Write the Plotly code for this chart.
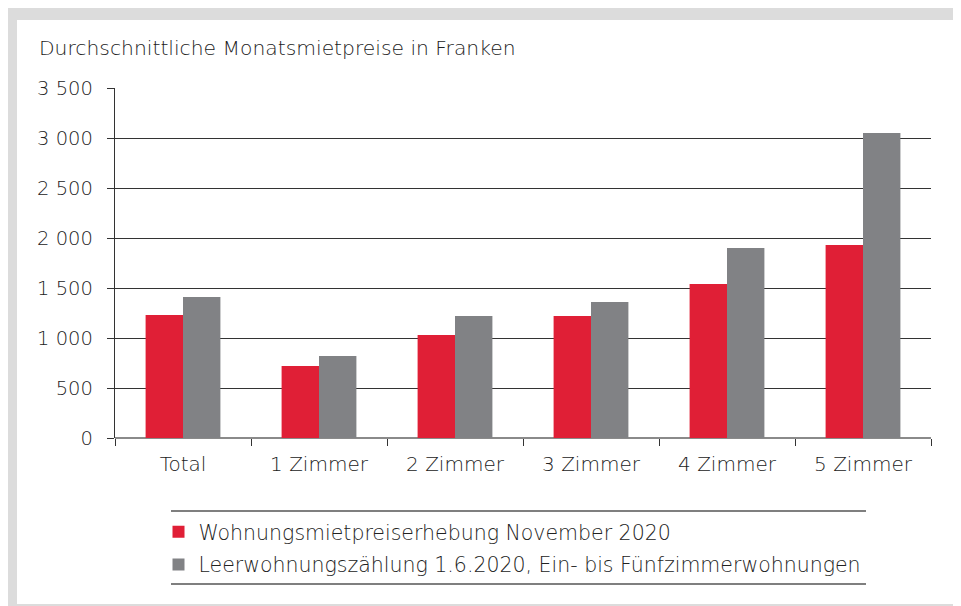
import plotly.graph_objects as go

categories = ["Total", "1 Zimmer", "2 Zimmer", "3 Zimmer", "4 Zimmer", "5 Zimmer"]
series_names = ["Wohnungsmietpreiserhebung November 2020",
                "Leerwohnungszählung 1.6.2020, Ein- bis Fünfzimmerwohnungen"]
werte_nov2020 = [1230, 720, 1030, 1220, 1540, 1930]
werte_leer2020 = [1410, 820, 1220, 1360, 1900, 3050]
y_ticks = [0, 500, 1000, 1500, 2000, 2500, 3000, 3500]
title_text = "Durchschnittliche Monatsmietpreise in Franken"

RED = "#e01f36"
GRAY = "#818285"
FONT = "DejaVu Sans"
TXT = "#222222"

W, H = 961, 606
L, R, T, B = 107, 38, 80, 176
PW, PH = W - L - R, H - T - B


def px_x(x):
    return (x - L) / PW


def px_y(y):
    return (H - B - y) / PH


fig = go.Figure()
fig.add_trace(go.Bar(x=categories, y=werte_nov2020, name=series_names[0],
                     marker=dict(color=RED, line=dict(width=0)), legendgroup="a"))
fig.add_trace(go.Bar(x=categories, y=werte_leer2020, name=series_names[1],
                     marker=dict(color=GRAY, line=dict(width=0)), legendgroup="b"))

shapes = [
    dict(type="rect", xref="paper", yref="paper", x0=px_x(9), x1=px_x(975),
         y0=px_y(596), y1=px_y(12), fillcolor="white", line=dict(width=0), layer="below"),
    dict(type="line", xref="paper", yref="paper", x0=px_x(163), x1=px_x(858),
         y0=px_y(503), y1=px_y(503), line=dict(color="#555555", width=1.3)),
    dict(type="line", xref="paper", yref="paper", x0=px_x(163), x1=px_x(858),
         y0=px_y(576), y1=px_y(576), line=dict(color="#555555", width=1.3)),
]

fig.update_layout(
    width=W, height=H,
    margin=dict(l=L, r=R, t=T, b=B, autoexpand=False),
    paper_bgcolor="#dcdcdc",
    plot_bgcolor="white",
    separators=", ",
    font=dict(family=FONT, size=20, color=TXT, weight=300),
    barmode="group",
    bargap=0.45,
    bargroupgap=0,
    showlegend=True,
    legend=dict(x=px_x(150.5), y=px_y(504), xanchor="left", yanchor="top",
                bgcolor="rgba(0,0,0,0)", traceorder="grouped", tracegroupgap=3,
                font=dict(family=FONT, size=20.5, color=TXT, weight=300)),
    shapes=shapes,
    annotations=[dict(text=title_text, xref="paper", yref="paper",
                      x=px_x(29), y=px_y(40), xanchor="left", yanchor="middle",
                      showarrow=False, font=dict(family=FONT, size=20.3, color=TXT, weight=300))],
    xaxis=dict(showgrid=False, showline=False, ticks="outside", tickson="boundaries",
               ticklen=7, tickcolor="#333333", tickwidth=1.3,
               ticklabelstandoff=12,
               tickfont=dict(size=20), zeroline=False),
    yaxis=dict(range=[0, 3500], tickvals=y_ticks, tickformat=",d",
               showgrid=True, gridcolor="#333333", gridwidth=1.3,
               showline=True, linecolor="#333333", linewidth=1.3,
               ticks="outside", ticklen=7, tickcolor="#333333", tickwidth=1.3,
               ticklabelstandoff=10,
               zeroline=True, zerolinecolor="#8a8a8a", zerolinewidth=2,
               tickfont=dict(size=19.5)),
)

fig.write_html("out.html")
